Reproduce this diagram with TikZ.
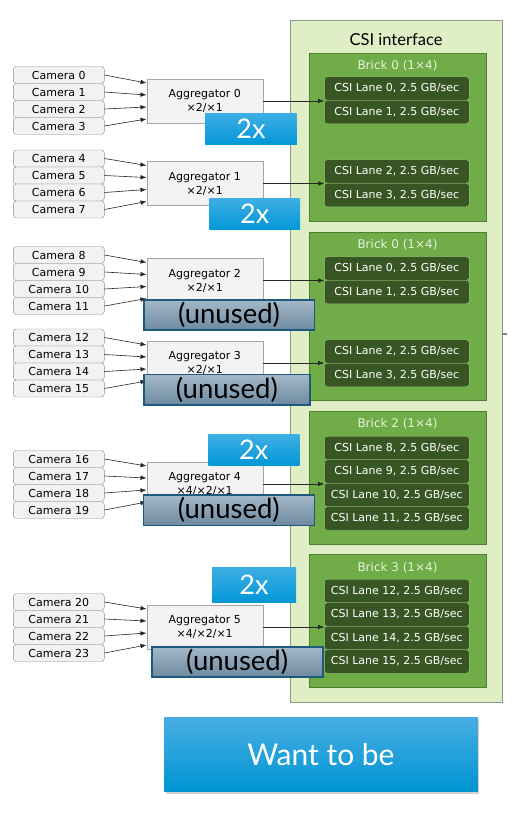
\documentclass[tikz,border=0pt]{standalone}
\usepackage{fontspec}
\setmainfont{DejaVu Sans}
\newfontfamily\bigfont{Lato}
\usepackage{xcolor}
\usetikzlibrary{shadows,arrows.meta}
\definecolor{csifill}{HTML}{DFEEC4}
\definecolor{csiline}{HTML}{8E9A86}
\definecolor{brickfill}{HTML}{70AC47}
\definecolor{brickline}{HTML}{4F7D32}
\definecolor{lanefill}{HTML}{375623}
\definecolor{laneline}{HTML}{9CC67E}
\definecolor{camfill}{HTML}{F2F2F2}
\definecolor{camline}{HTML}{8F8F8F}
\definecolor{agfill}{HTML}{F3F3F3}
\definecolor{agline}{HTML}{A6A6A6}
\definecolor{unuline}{HTML}{1E5A7D}
\definecolor{unutop}{HTML}{A4B8C8}
\definecolor{unubot}{HTML}{6E8AA0}
\definecolor{twotop}{HTML}{3EAEE4}
\definecolor{twobot}{HTML}{0398D7}
\definecolor{wanttop}{HTML}{48ADE2}
\definecolor{wantbot}{HTML}{0095D3}
\definecolor{bticolor}{HTML}{E6F2DA}
\tikzset{
    CAM/.style ={rectangle,rounded corners=3pt,minimum width=91pt,minimum height=17pt,inner sep=0pt,draw=camline,fill=camfill,font=\fontsize{11}{12}\selectfont},
    AGG/.style ={rectangle,minimum width=116pt,minimum height=44pt,inner sep=0pt,align=center,draw=agline,fill=agfill,font=\fontsize{11}{14}\selectfont},
    LANE/.style ={rectangle,rounded corners=3pt,minimum width=145pt,minimum height=23.5pt,inner sep=0pt,draw=laneline,fill=lanefill,text=white,font=\fontsize{11}{12}\selectfont},
    BRK1/.style ={rectangle,minimum width=176.4pt,minimum height=168.3pt,draw=brickline,fill=brickfill},
    BRK2/.style ={rectangle,minimum width=176.4pt,minimum height=133pt,draw=brickline,fill=brickfill},
    BT/.style ={text=bticolor,font=\fontsize{12}{13}\selectfont},
    TWO/.style ={rectangle,minimum width=91pt,minimum height=31pt,inner sep=0pt,top color=twotop,bottom color=twobot,text=white,font=\bigfont\fontsize{27}{28}\selectfont},
    UNU/.style ={rectangle,minimum height=30.5pt,inner sep=0pt,draw=unuline,line width=1.6pt,top color=unutop,bottom color=unubot,font=\bigfont\fontsize{27.5}{29}\selectfont},
    ARR/.style={-{Latex[length=6pt,width=4.5pt]},draw=black!85,line width=0.6pt}
}
\begin{document}
\begin{tikzpicture}[x=1pt,y=-1pt]
            \useasboundingbox (0,0) rectangle (521,814);
            \draw (396,361) node[rectangle,minimum width=212pt,minimum height=682pt,draw=csiline,fill=csifill,line width=0.8pt](csi){};
            \draw (396,40) node[font=\bigfont\fontsize{16.5}{18}\selectfont](csit){CSI interface};
            \draw (397.5,136.9) node[BRK1](b0){};
            \draw (397.5,316.5) node[BRK1](b1){};
            \draw (397.5,477.5) node[BRK2](b2){};
            \draw (397.5,620.8) node[BRK2](b3){};
            \draw (397.5,65.7) node[BT](b0t){Brick 0 (1×4)};
            \draw (397.5,245) node[BT](b1t){Brick 0 (1×4)};
            \draw (397.5,424) node[BT](b2t){Brick 2 (1×4)};
            \draw (397.5,567.7) node[BT](b3t){Brick 3 (1×4)};
            \draw (396.8,88.5) node[LANE](b0l0){CSI Lane 0, 2.5 GB/sec};
            \draw (396.8,112) node[LANE](b0l1){CSI Lane 1, 2.5 GB/sec};
            \draw (396.8,171.5) node[LANE](b0l2){CSI Lane 2, 2.5 GB/sec};
            \draw (396.8,195) node[LANE](b0l3){CSI Lane 3, 2.5 GB/sec};
            \draw (396.8,268.5) node[LANE](b1l0){CSI Lane 0, 2.5 GB/sec};
            \draw (396.8,292) node[LANE](b1l1){CSI Lane 1, 2.5 GB/sec};
            \draw (396.8,351.5) node[LANE](b1l2){CSI Lane 2, 2.5 GB/sec};
            \draw (396.8,375) node[LANE](b1l3){CSI Lane 3, 2.5 GB/sec};
            \draw (396.8,448) node[LANE](b2l8){CSI Lane 8, 2.5 GB/sec};
            \draw (396.8,471.5) node[LANE](b2l9){CSI Lane 9, 2.5 GB/sec};
            \draw (396.8,495) node[LANE](b2l10){CSI Lane 10, 2.5 GB/sec};
            \draw (396.8,518.5) node[LANE](b2l11){CSI Lane 11, 2.5 GB/sec};
            \draw (396.8,591) node[LANE](b3l12){CSI Lane 12, 2.5 GB/sec};
            \draw (396.8,614.5) node[LANE](b3l13){CSI Lane 13, 2.5 GB/sec};
            \draw (396.8,638) node[LANE](b3l14){CSI Lane 14, 2.5 GB/sec};
            \draw (396.8,661.5) node[LANE](b3l15){CSI Lane 15, 2.5 GB/sec};
            \draw (58.8,75) node[CAM](c0){Camera 0};
            \draw (58.8,92) node[CAM](c1){Camera 1};
            \draw (58.8,109) node[CAM](c2){Camera 2};
            \draw (58.8,126) node[CAM](c3){Camera 3};
            \draw (58.8,158.5) node[CAM](c4){Camera 4};
            \draw (58.8,175.5) node[CAM](c5){Camera 5};
            \draw (58.8,192.5) node[CAM](c6){Camera 6};
            \draw (58.8,209.5) node[CAM](c7){Camera 7};
            \draw (58.8,255) node[CAM](c8){Camera 8};
            \draw (58.8,272) node[CAM](c9){Camera 9};
            \draw (58.8,289) node[CAM](c10){Camera 10};
            \draw (58.8,306) node[CAM](c11){Camera 11};
            \draw (58.8,337.5) node[CAM](c12){Camera 12};
            \draw (58.8,354.5) node[CAM](c13){Camera 13};
            \draw (58.8,371.5) node[CAM](c14){Camera 14};
            \draw (58.8,388.5) node[CAM](c15){Camera 15};
            \draw (58.8,459) node[CAM](c16){Camera 16};
            \draw (58.8,476) node[CAM](c17){Camera 17};
            \draw (58.8,493) node[CAM](c18){Camera 18};
            \draw (58.8,510) node[CAM](c19){Camera 19};
            \draw (58.8,602) node[CAM](c20){Camera 20};
            \draw (58.8,619) node[CAM](c21){Camera 21};
            \draw (58.8,636) node[CAM](c22){Camera 22};
            \draw (58.8,653) node[CAM](c23){Camera 23};
            \draw (204.7,101) node[AGG](a0){Aggregator 0\\×2/×1};
            \draw (204.7,183.5) node[AGG](a1){Aggregator 1\\×2/×1};
            \draw (204.7,280.5) node[AGG](a2){Aggregator 2\\×2/×1};
            \draw (204.7,363) node[AGG](a3){Aggregator 3\\×2/×1};
            \draw (204.7,484) node[AGG](a4){Aggregator 4\\×4/×2/×1};
            \draw (204.7,627) node[AGG](a5){Aggregator 5\\×4/×2/×1};
            \draw[ARR] (c0.east) -- ([yshift=18pt]a0.west);
            \draw[ARR] (c1.east) -- ([yshift=6pt]a0.west);
            \draw[ARR] (c2.east) -- ([yshift=-6pt]a0.west);
            \draw[ARR] (c3.east) -- ([yshift=-18pt]a0.west);
            \draw[ARR] (c4.east) -- ([yshift=18pt]a1.west);
            \draw[ARR] (c5.east) -- ([yshift=6pt]a1.west);
            \draw[ARR] (c6.east) -- ([yshift=-6pt]a1.west);
            \draw[ARR] (c7.east) -- ([yshift=-18pt]a1.west);
            \draw[ARR] (c8.east) -- ([yshift=18pt]a2.west);
            \draw[ARR] (c9.east) -- ([yshift=6pt]a2.west);
            \draw[ARR] (c10.east) -- ([yshift=-6pt]a2.west);
            \draw[ARR] (c11.east) -- ([yshift=-18pt]a2.west);
            \draw[ARR] (c12.east) -- ([yshift=18pt]a3.west);
            \draw[ARR] (c13.east) -- ([yshift=6pt]a3.west);
            \draw[ARR] (c14.east) -- ([yshift=-6pt]a3.west);
            \draw[ARR] (c15.east) -- ([yshift=-18pt]a3.west);
            \draw[ARR] (c16.east) -- ([yshift=18pt]a4.west);
            \draw[ARR] (c17.east) -- ([yshift=6pt]a4.west);
            \draw[ARR] (c18.east) -- ([yshift=-6pt]a4.west);
            \draw[ARR] (c19.east) -- ([yshift=-18pt]a4.west);
            \draw[ARR] (c20.east) -- ([yshift=18pt]a5.west);
            \draw[ARR] (c21.east) -- ([yshift=6pt]a5.west);
            \draw[ARR] (c22.east) -- ([yshift=-6pt]a5.west);
            \draw[ARR] (c23.east) -- ([yshift=-18pt]a5.west);
            \draw[ARR] (a0.east) -- (a0.east -| b0l0.west);
            \draw[ARR] (a1.east) -- (a1.east -| b0l2.west);
            \draw[ARR] (a2.east) -- (a2.east -| b1l0.west);
            \draw[ARR] (a3.east) -- (a3.east -| b1l2.west);
            \draw[ARR] (a4.east) -- (a4.east -| b2l9.west);
            \draw[ARR] (a5.east) -- (a5.east -| b3l13.west);
            \draw (250.9,128.8) node[TWO,minimum width=91.7pt](t0){2x};
            \draw (254.7,213.8) node[TWO,minimum width=90.7pt](t1){2x};
            \draw (253.8,450) node[TWO](t2){2x};
            \draw (254,585) node[TWO,minimum width=84pt,minimum height=35pt](t3){2x};
            \draw (229,315) node[UNU,minimum width=170.6pt](u0){(unused)};
            \draw (226.9,389.7) node[UNU,minimum width=166.3pt](u1){(unused)};
            \draw (228.8,510.3) node[UNU,minimum width=171pt](u2){(unused)};
            \draw (237.2,662) node[UNU,minimum width=171pt](u3){(unused)};
            \draw (320.9,754.5) node[rectangle,minimum width=313.7pt,minimum height=74.4pt,top color=wanttop,bottom color=wantbot,text=white,drop shadow={shadow xshift=1.5pt,shadow yshift=-2.5pt,opacity=0.35},font=\bigfont\fontsize{30}{32}\selectfont](want){Want to be};
            \coordinate (tk) at (507,334.3);
            \draw[gray,line width=2pt] (csi.east |- tk) -- (tk);
        \end{tikzpicture}
\end{document}
